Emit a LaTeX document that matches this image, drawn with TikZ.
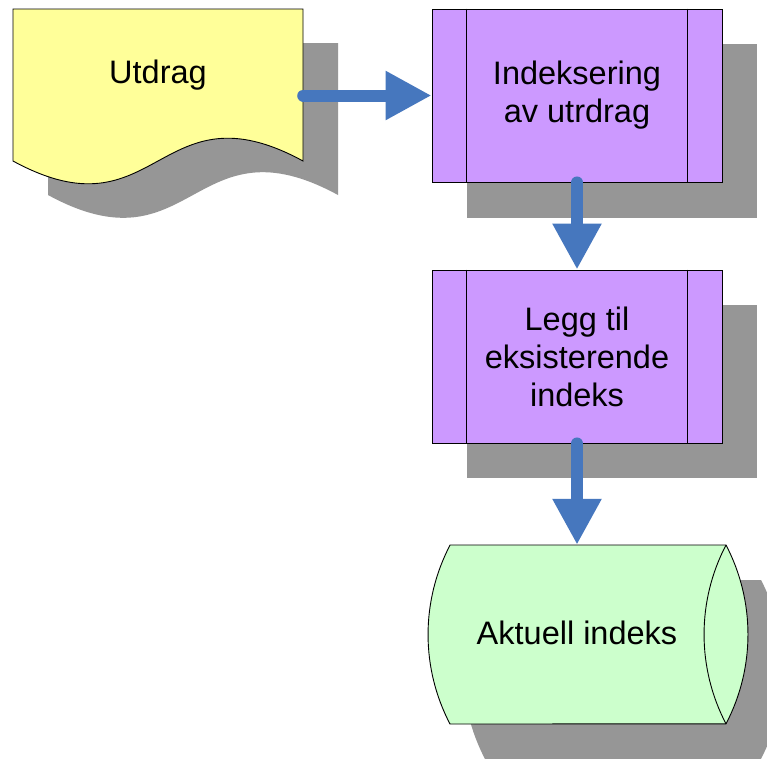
\documentclass[tikz,border=0pt]{standalone}
\usepackage{fontspec}
\setmainfont{Liberation Sans}
\usetikzlibrary{arrows.meta}
\definecolor{docfill}{HTML}{FFFF99}
\definecolor{procfill}{HTML}{CC99FF}
\definecolor{cylfill}{HTML}{CCFFCC}
\definecolor{shadowc}{HTML}{969696}
\definecolor{arrowc}{HTML}{4677BE}
\begin{document}
\begin{tikzpicture}[x=1pt,y=-1pt,
  outline/.style={draw=black,line width=0.9pt},
  shadowfill/.style={fill=shadowc},
  procbox/.style={rectangle,outline,fill=procfill,minimum width=290pt,minimum height=173pt,inner sep=0pt,align=center,font=\fontsize{32.5}{38}\selectfont},
  invisbox/.style={rectangle,inner sep=0pt},
  lbl/.style={inner sep=0pt,align=center,font=\fontsize{32.5}{38}\selectfont},
  flow/.style={draw=arrowc,line width=12pt,line cap=round,-{Triangle[width=46pt,length=46pt]}}
]
\clip (0,0) rectangle (767,758);
\useasboundingbox (0,0) rectangle (767,758);
\fill[white] (0,0) rectangle (767,758);

% shadows
\fill[shadowfill,shift={(35,34)}] (13,9) -- (303,9) -- (303,161) .. controls (158,82) and (158,240) .. (13,161) -- cycle;
\fill[shadowfill] (467,44) rectangle (757,218);
\fill[shadowfill] (467,305) rectangle (757,478);
\fill[shadowfill,shift={(35,35)}] (450,545) -- (726,545) arc[start angle=27.6,end angle=-27.6,radius=193pt] -- (450,724) arc[start angle=207.6,end angle=152.4,radius=193pt] -- cycle;

% document
\node[invisbox,minimum width=290pt,minimum height=152pt] (doc) at (158,85) {};
\draw[outline,fill=docfill] (13,9) -- (303,9) -- (303,161) .. controls (158,82) and (158,240) .. (13,161) -- cycle;
\node[lbl] (doctext) at (158,75) {Utdrag};

% processes
\node[procbox] (p1) at (577,95.5) {Indeksering\\av utrdrag};
\draw[outline] ([xshift=35pt]p1.north west) -- ([xshift=35pt]p1.south west);
\draw[outline] ([xshift=-35pt]p1.north east) -- ([xshift=-35pt]p1.south east);

\node[procbox] (p2) at (577,356.5) {Legg til\\eksisterende\\indeks};
\draw[outline] ([xshift=35pt]p2.north west) -- ([xshift=35pt]p2.south west);
\draw[outline] ([xshift=-35pt]p2.north east) -- ([xshift=-35pt]p2.south east);

% cylinder
\node[invisbox,minimum width=320pt,minimum height=179pt] (cyl) at (588,634.5) {};
\draw[outline,fill=cylfill] (450,545) -- (726,545) arc[start angle=27.6,end angle=-27.6,radius=193pt] -- (450,724) arc[start angle=207.6,end angle=152.4,radius=193pt] -- cycle;
\draw[outline] (726,545) arc[start angle=152.4,end angle=207.6,radius=193pt];
\node[lbl] (cyltext) at (577,633) {Aktuell indeks};

% connectors
\draw[flow] (doc.east |- p1.west) -- (p1.west);
\draw[flow] (p1.south) -- (p2.north);
\draw[flow] (p2.south) -- (p2.south |- cyl.north);
\end{tikzpicture}
\end{document}
